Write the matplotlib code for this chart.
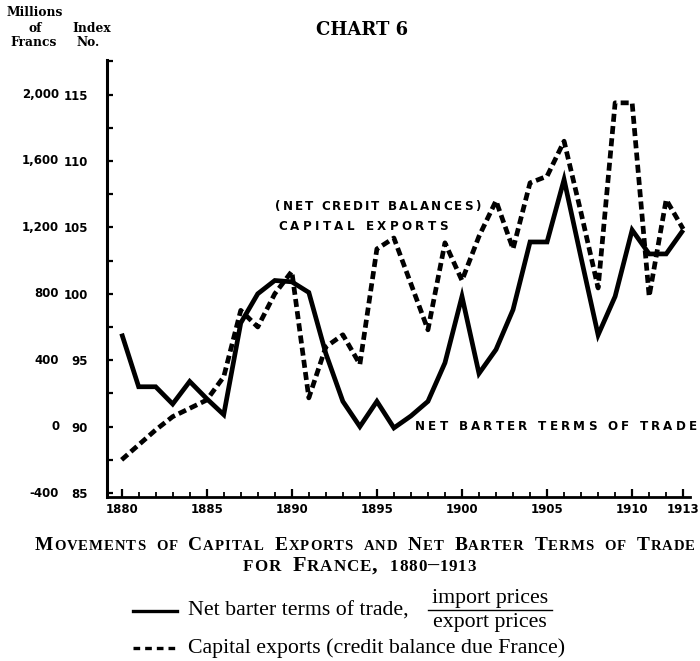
import matplotlib
matplotlib.use("Agg")
import matplotlib.pyplot as plt
from matplotlib.ticker import FixedLocator, MultipleLocator
from matplotlib.lines import Line2D

# ---------------- data ----------------
years = list(range(1880, 1914))
terms_of_trade = [97.0, 93.0, 93.0, 91.7, 93.4, 92.1, 90.9, 97.8, 100.0, 101.0,
                  100.9, 100.1, 95.5, 91.9, 90.0, 91.9, 89.9, 90.8, 91.9, 94.8,
                  99.8, 94.0, 95.8, 98.8, 103.9, 103.9, 108.6, 102.7, 96.9, 99.8,
                  104.8, 103.0, 103.0, 104.8]
capital_exports = [-200, -110, -20, 60, 110, 160, 300, 700, 600, 800,
                   935, 173, 480, 553, 375, 1070, 1136, 860, 583, 1107,
                   880, 1146, 1360, 1070, 1468, 1508, 1719, 1287, 835, 1950,
                   1950, 784, 1367, 1190]
index_ticks = [85, 90, 95, 100, 105, 110, 115]
index_labels = ["85", "90", "95", "100", "105", "110", "115"]
franc_labels = ["-400", "0", "400", "800", "1,200", "1,600", "2,000"]
year_ticks = [1880, 1885, 1890, 1895, 1900, 1905, 1910, 1913]
year_labels = ["1880", "1885", "1890", "1895", "1900", "1905", "1910", "1913"]

W, H = 700, 661
fig = plt.figure(figsize=(W / 100, H / 100), dpi=100)
fig.patch.set_facecolor("white")
renderer = fig.canvas.get_renderer()

def fx(x):
    return x / W

def fy(y):
    return 1 - y / H

# axes geometry (pixels)
left, right, top, bottom = 107, 690, 60, 497
ax = fig.add_axes([fx(left), fy(bottom), (right - left) / W, (bottom - top) / H])
ylo, yhi = 84.7, 117.6
ax.set_xlim(1879.14, 1913.4)
ax.set_ylim(ylo, yhi)
ax2 = ax.twinx()
ax2.set_ylim((ylo - 90) * 80, (yhi - 90) * 80)

for a in (ax, ax2):
    for s in ("top", "right"):
        a.spines[s].set_visible(False)
    a.patch.set_visible(False)
ax2.spines["left"].set_visible(False)
ax2.spines["bottom"].set_visible(False)
ax2.set_yticks([])
ax.spines["left"].set_linewidth(2.2)
ax.spines["bottom"].set_linewidth(2.0)

ax.plot(years, terms_of_trade, color="black", lw=3.4, solid_joinstyle="miter",
        solid_capstyle="butt", zorder=3)
ax2.plot(years, capital_exports, color="black", lw=3.4, linestyle=(0, (1.7, 0.9)),
         dash_capstyle="butt", dash_joinstyle="round", zorder=3)

# y ticks
ax.yaxis.set_major_locator(FixedLocator(index_ticks))
ax.yaxis.set_minor_locator(MultipleLocator(2.5))
ax.set_yticklabels(index_labels)
ax.tick_params(axis="y", which="both", direction="in", length=4, width=1.6, pad=13.5)
for lab in ax.get_yticklabels():
    lab.set_fontweight("bold")
    lab.set_fontsize(8.5)
for v, lab in zip(index_ticks, franc_labels):
    ax.text(-0.082, v, lab, transform=ax.get_yaxis_transform(), ha="right",
            va="center", fontsize=8.5, fontweight="bold")

# x ticks
ax.xaxis.set_major_locator(FixedLocator(year_ticks))
ax.xaxis.set_minor_locator(MultipleLocator(1))
ax.set_xticklabels(year_labels)
ax.tick_params(axis="x", which="major", direction="in", length=6, width=1.6, pad=4)
ax.tick_params(axis="x", which="minor", direction="in", length=3.5, width=1.3)
for lab in ax.get_xticklabels():
    lab.set_fontweight("bold")
    lab.set_fontsize(8.5)


def place_chars(chars, x0, x1, y, va, family, weight, space_factor, track=None):
    """chars: list of (char, size). Spread over x0..x1.  If track is given,
    font sizes are scaled to fit with that fixed tracking; otherwise sizes are
    fixed and the tracking is computed."""
    objs = []
    for c, size in chars:
        if c == " ":
            objs.append([None, size])
        else:
            t = fig.text(0, fy(y), c, ha="left", va=va, fontsize=size,
                         family=family, fontweight=weight)
            objs.append([t, size])

    def widths():
        out = []
        for t, size in objs:
            if t is None:
                out.append(size * space_factor * 100 / 72)
            else:
                out.append(t.get_window_extent(renderer).width)
        return out

    n = len(objs)
    if track is not None:
        natural = sum(widths())
        k = (x1 - x0 - track * (n - 1)) / natural
        for o in objs:
            o[1] *= k
            if o[0] is not None:
                o[0].set_fontsize(o[1])
        ws = widths()
        track = (x1 - x0 - sum(ws)) / (n - 1)
    else:
        ws = widths()
        track = (x1 - x0 - sum(ws)) / max(n - 1, 1)
    x = x0
    for (t, _), w in zip(objs, ws):
        if t is not None:
            t.set_x(fx(x))
        x += w + track


def spaced(text, x0, x1, yc, size):
    place_chars([(c, size) for c in text], x0, x1, yc, "center",
                "DejaVu Sans", "bold", 0.35)


# in-chart annotations
spaced("(NET CREDIT BALANCES)", 275, 480, 207, 8.6)
spaced("CAPITAL EXPORTS", 278, 448, 226, 8.6)
spaced("NET BARTER TERMS OF TRADE", 415, 697, 427, 8.6)

# header
hserif = "DejaVu Serif"
for txt, x, y in [("Millions", 35, 13), ("of", 35, 28), ("Francs", 34, 42),
                  ("Index", 92, 28), ("No.", 88, 42)]:
    fig.text(fx(x), fy(y), txt, ha="center", va="center", family=hserif,
             fontweight="bold", fontsize=8.8)
fig.text(fx(362), fy(30), "CHART 6", ha="center", va="center", family=hserif,
         fontweight="bold", fontsize=13)

serif = "Liberation Serif"


def smallcaps(text, x0, x1, y, big=15.0, small=11.5):
    chars = []
    for ch in text:
        if ch == " ":
            chars.append((" ", small))
        elif ch.islower() or ch.isdigit():
            chars.append((ch.upper(), small))
        else:
            chars.append((ch, big))
    place_chars(chars, x0, x1, y, "baseline", serif, "bold", 0.6, track=0.9)


smallcaps("Movements of Capital Exports and Net Barter Terms of Trade", 35, 695, 550)
smallcaps("for France, 1880–1913", 243, 476, 571)

# legend
t1 = fig.text(fx(188), fy(611), "Net barter terms of trade,", ha="left", va="center",
              family=serif, fontsize=15)
w1 = t1.get_window_extent(renderer).width
leg_size = 15 * (410 - 188) / w1
t1.set_fontsize(leg_size)
fig.add_artist(Line2D([fx(133), fx(177)], [fy(611), fy(611)], color="black", lw=2.4))
fig.add_artist(Line2D([fx(133), fx(177)], [fy(648), fy(648)], color="black", lw=2.4,
                      linestyle=(0, (2.0, 1.5))))
fig.text(fx(490), fy(598), "import prices", ha="center", va="center",
         family=serif, fontsize=leg_size)
fig.add_artist(Line2D([fx(428), fx(552)], [fy(610), fy(610)], color="black", lw=1.0))
fig.text(fx(490), fy(623), "export prices", ha="center", va="center",
         family=serif, fontsize=leg_size)
fig.text(fx(188), fy(648), "Capital exports (credit balance due France)", ha="left",
         va="center", family=serif, fontsize=leg_size)

fig.savefig("out.png", dpi=100, facecolor="white")
